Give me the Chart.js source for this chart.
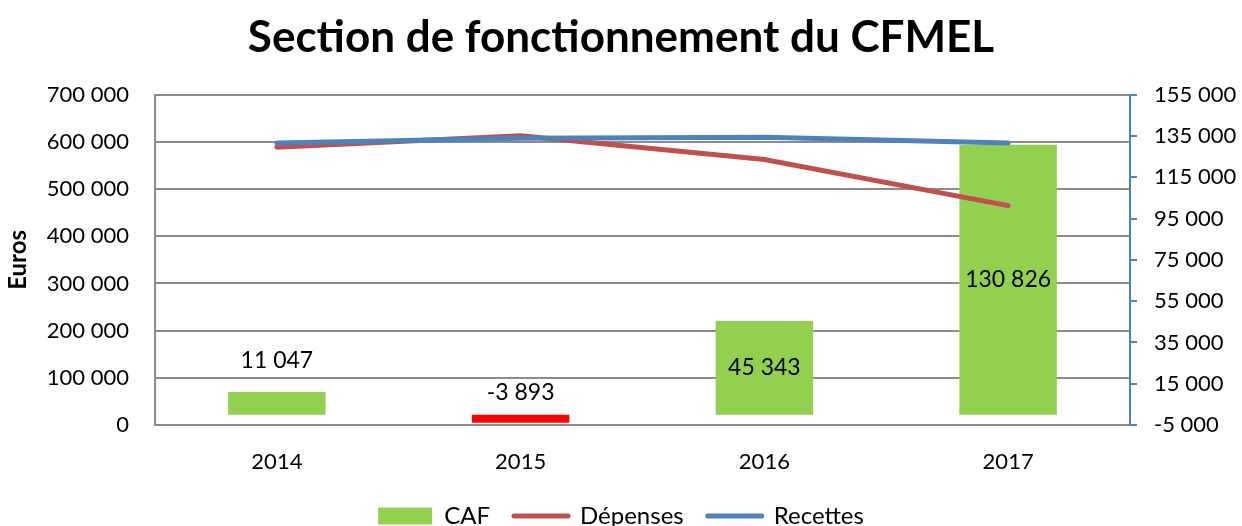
<!DOCTYPE html>
<html>
<head>
<meta charset="utf-8">
<script src="https://cdn.jsdelivr.net/npm/chart.js@4.4.0/dist/chart.umd.min.js"></script>
<style>
  html, body { margin: 0; padding: 0; background: #fff; }
  #wrap { width: 1242px; height: 526px; overflow: hidden; }
</style>
</head>
<body>
<div id="wrap"><canvas id="chartCFMEL" width="1242" height="538"></canvas></div>
<script>
var annees = ['2014', '2015', '2016', '2017'];
var caf = [11047, -3893, 45343, 130826];
var depenses = [589000, 613000, 563000, 465000];
var recettes = [598000, 608000, 610000, 598000];
// where each CAF label sits: above the bar or in the middle
var posEtiquettes = ['dessus', 'dessus', 'centre', 'centre'];

var police = 'Lato, "Open Sans", sans-serif';

function fmt(v) {
    var s = Math.abs(Math.round(v)).toString().replace(/\B(?=(\d{3})+(?!\d))/g, ' ');
    return (v < 0 ? '-' : '') + s;
}

// draws the value labels of the CAF bars
var etiquettesCAF = {
    id: 'etiquettesCAF',
    afterDatasetsDraw: function(chart) {
        var meta = chart.getDatasetMeta(0);
        var ctx = chart.ctx;
        ctx.save();
        ctx.font = '23px ' + police;
        ctx.fillStyle = '#000';
        ctx.textAlign = 'center';
        ctx.textBaseline = 'middle';
        meta.data.forEach(function(bar, i) {
            var v = caf[i];
            var y;
            if (posEtiquettes[i] == 'centre') {
                y = (bar.y + bar.base) / 2;
            } else if (v >= 0) {
                y = bar.y - 31;
            } else {
                y = bar.base - 22;
            }
            ctx.fillText(fmt(v), bar.x, y);
        });
        ctx.restore();
    }
};

var config = {
    type: 'bar',
    data: {
        labels: annees,
        datasets: [{
            type: 'bar',
            label: 'CAF',
            data: caf,
            yAxisID: 'yDroite',
            backgroundColor: function(c) { return caf[c.dataIndex] < 0 ? '#FF0000' : '#92D050'; },
            borderWidth: 0,
            barPercentage: 0.4,
            categoryPercentage: 1,
            order: 2
        }, {
            type: 'line',
            label: 'Dépenses',
            data: depenses,
            yAxisID: 'yGauche',
            borderColor: '#C0504D',
            borderWidth: 5,
            borderCapStyle: 'round',
            pointRadius: 0,
            tension: 0,
            order: 1
        }, {
            type: 'line',
            label: 'Recettes',
            data: recettes,
            yAxisID: 'yGauche',
            borderColor: '#4F81BD',
            borderWidth: 5,
            borderCapStyle: 'round',
            pointRadius: 0,
            tension: 0,
            order: 0
        }]
    },
    options: {
        responsive: false,
        animation: false,
        layout: { padding: 0 },
        plugins: {
            title: {
                display: true,
                text: 'Section de fonctionnement du CFMEL',
                color: '#000',
                font: { family: police, size: 44, weight: 'bold', lineHeight: 1.2 },
                padding: { top: 11, bottom: 31 }
            },
            legend: {
                position: 'bottom',
                labels: {
                    color: '#000',
                    font: { family: police, size: 24 },
                    usePointStyle: true,
                    pointStyleWidth: 54,
                    boxHeight: 17,
                    padding: 24,
                    generateLabels: function() {
                        return [
                            { text: 'CAF', fillStyle: '#92D050', strokeStyle: '#92D050', lineWidth: 0, pointStyle: 'rect', datasetIndex: 0 },
                            { text: 'Dépenses', fillStyle: '#C0504D', strokeStyle: '#C0504D', lineWidth: 5, lineCap: 'round', pointStyle: 'line', datasetIndex: 1 },
                            { text: 'Recettes', fillStyle: '#4F81BD', strokeStyle: '#4F81BD', lineWidth: 5, lineCap: 'round', pointStyle: 'line', datasetIndex: 2 }
                        ];
                    }
                }
            },
            tooltip: { enabled: false }
        },
        scales: {
            x: {
                grid: { display: false, drawTicks: false },
                border: { color: '#8c8c8c', width: 2 },
                ticks: { color: '#000', font: { family: police, size: 22 }, padding: 24 },
                afterFit: function(s) { s.height = 55; }
            },
            yGauche: {
                position: 'left',
                min: 0,
                max: 700000,
                ticks: { stepSize: 100000, color: '#000', font: { family: police, size: 22 }, padding: 26, callback: function(v) { return fmt(v); } },
                grid: { color: '#8c8c8c', lineWidth: 2, drawTicks: false },
                border: { color: '#8c8c8c', width: 2 },
                title: { display: true, text: 'Euros', color: '#000', font: { family: police, size: 24, weight: 'bold', lineHeight: 1 }, padding: { top: 6, bottom: 0 } },
                afterFit: function(s) { s.width = 155; }
            },
            yDroite: {
                position: 'right',
                min: -5000,
                max: 155000,
                ticks: { stepSize: 20000, color: '#000', font: { family: police, size: 22 }, padding: 17, callback: function(v) { return fmt(v); } },
                grid: { drawOnChartArea: false, drawTicks: true, tickLength: 7, color: '#4F81BD', lineWidth: 2 },
                border: { color: '#4F81BD', width: 2 },
                afterFit: function(s) { s.width = 112; }
            }
        }
    },
    plugins: [etiquettesCAF]
};

var ctx = document.getElementById('chartCFMEL');
window.myChart = new Chart(ctx, config);
</script>
</body>
</html>
